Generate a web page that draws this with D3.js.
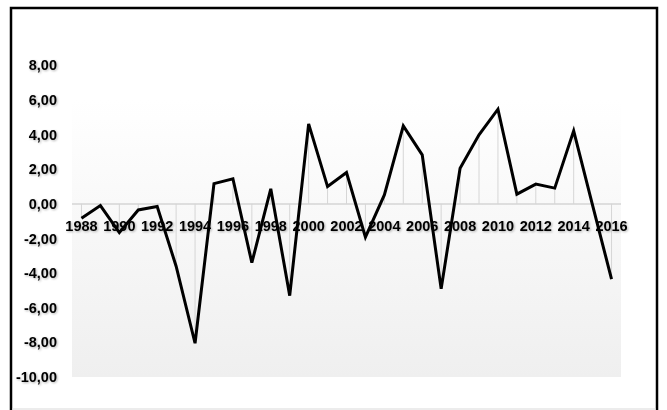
<!DOCTYPE html>
<html>
<head>
<meta charset="utf-8">
<script src="https://cdn.jsdelivr.net/npm/d3@7"></script>
<style>
  html, body { margin: 0; padding: 0; background: #fff; }
  text { font-family: "Liberation Sans", Arial, sans-serif; font-weight: bold; font-size: 14.5px; fill: #000; }
</style>
</head>
<body>
<svg id="chart" width="667" height="410"></svg>
<script>
const years = d3.range(1988, 2017);
const values = [
  -0.83, -0.1, -1.66, -0.35, -0.15, -3.6, -8.05, 1.17, 1.45, -3.4,
  0.87, -5.3, 4.62, 1.0, 1.81, -1.92, 0.52, 4.5, 2.83, -4.91,
  2.06, 3.99, 5.47, 0.56, 1.14, 0.91, 4.22, -0.08, -4.35
];
const yTicks = [-10, -8, -6, -4, -2, 0, 2, 4, 6, 8];
const xLabelYears = years.filter(y => (y - 1988) % 2 === 0);

const svg = d3.select("#chart");
const plot = { left: 72, right: 621, top: 100, bottom: 377 };

const x = d3.scaleBand()
  .domain(years)
  .range([plot.left, plot.right]);

const y = d3.scaleLinear()
  .domain([-10, 6])
  .range([plot.bottom, plot.top]);

const cx = d => x(d) + x.bandwidth() / 2;
const fmt = v => d3.format(".2f")(v).replace(".", ",").replace("−", "-");

const defs = svg.append("defs");

// background gradient of the plot area
const grad = defs.append("linearGradient")
  .attr("id", "bg").attr("x1", 0).attr("y1", 0).attr("x2", 0).attr("y2", 1);
grad.append("stop").attr("offset", "0%").attr("stop-color", "#ffffff");
grad.append("stop").attr("offset", "100%").attr("stop-color", "#efefef");

// soft text shadow like the original
defs.append("filter").attr("id", "shadow")
  .attr("x", "-10%").attr("y", "-20%").attr("width", "130%").attr("height", "150%")
  .append("feDropShadow")
  .attr("dx", 1).attr("dy", 1).attr("stdDeviation", 0.8)
  .attr("flood-color", "#000").attr("flood-opacity", 0.3);

svg.append("rect")
  .attr("x", plot.left).attr("y", plot.top)
  .attr("width", plot.right - plot.left).attr("height", plot.bottom - plot.top)
  .attr("fill", "url(#bg)");

// drop lines from each point to zero
svg.append("g").selectAll("line")
  .data(years)
  .join("line")
  .attr("x1", d => cx(d)).attr("x2", d => cx(d))
  .attr("y1", (d, i) => y(values[i])).attr("y2", y(0))
  .attr("stroke", "#d6d6d6").attr("stroke-width", 1);

// zero axis line
svg.append("line")
  .attr("x1", plot.left).attr("x2", plot.right)
  .attr("y1", y(0)).attr("y2", y(0))
  .attr("stroke", "#d4d4d4").attr("stroke-width", 1.5);

// y labels
svg.append("g").attr("filter", "url(#shadow)").selectAll("text")
  .data(yTicks)
  .join("text")
  .attr("x", 57).attr("y", d => y(d))
  .attr("dy", "0.35em")
  .attr("text-anchor", "end")
  .text(d => fmt(d));

// x labels
svg.append("g").attr("filter", "url(#shadow)").selectAll("text")
  .data(xLabelYears)
  .join("text")
  .attr("x", d => cx(d)).attr("y", y(0) + 22)
  .attr("dy", "0.35em")
  .attr("text-anchor", "middle")
  .text(d => d);

// series line
svg.append("path")
  .datum(values)
  .attr("fill", "none")
  .attr("stroke", "#000")
  .attr("stroke-width", 3)
  .attr("stroke-linejoin", "miter")
  .attr("d", d3.line()
    .x((d, i) => cx(years[i]))
    .y(d => y(d)));

// chart border
svg.append("rect")
  .attr("x", 11).attr("y", 8)
  .attr("width", 646).attr("height", 410)
  .attr("fill", "none").attr("stroke", "#000").attr("stroke-width", 2.5);
svg.append("line")
  .attr("x1", 12).attr("x2", 656).attr("y1", 409).attr("y2", 409)
  .attr("stroke", "#d9d9d9").attr("stroke-width", 1);
</script>
</body>
</html>
